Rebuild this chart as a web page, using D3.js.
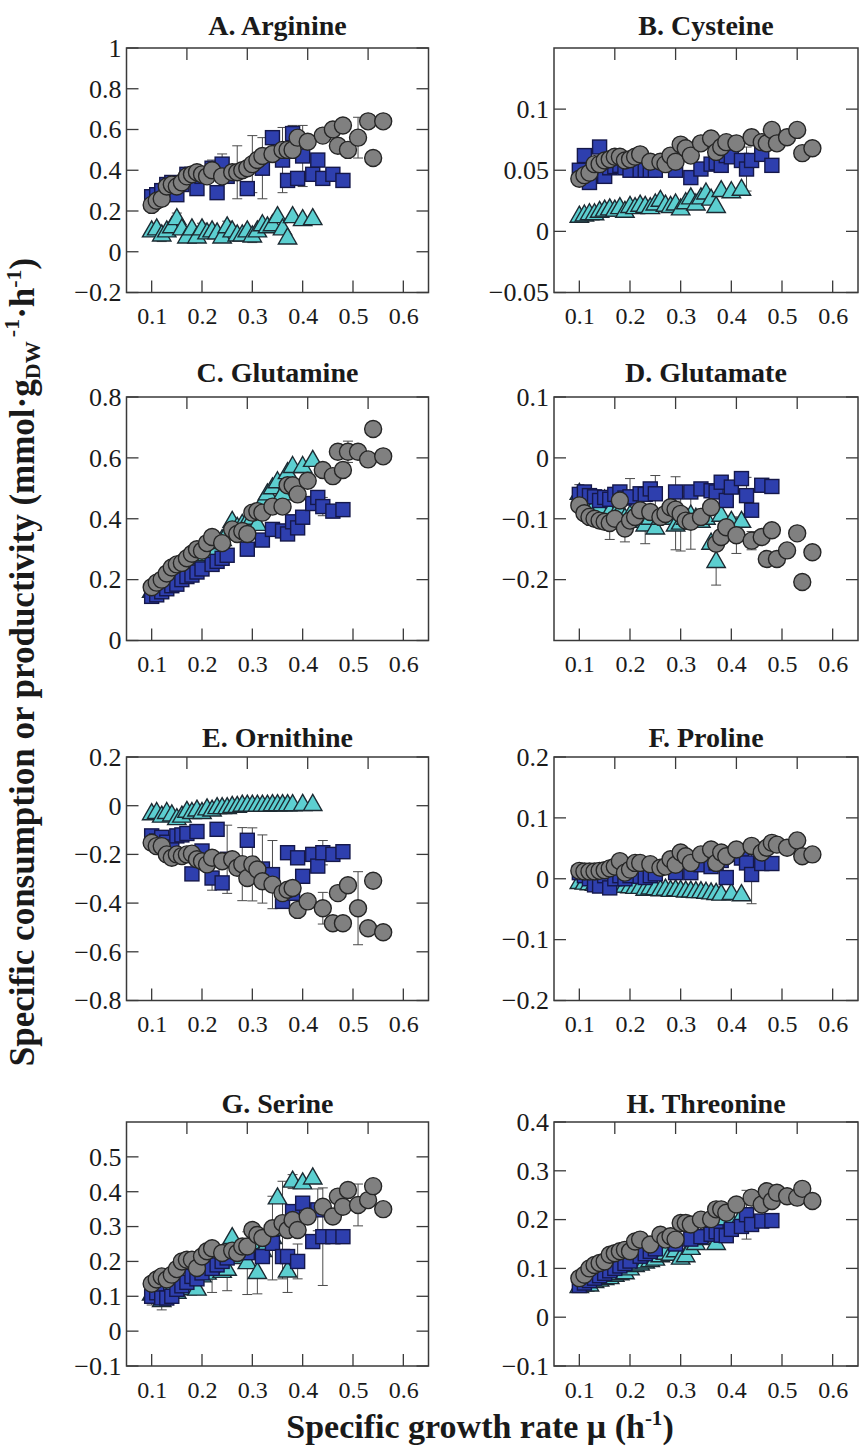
<!DOCTYPE html>
<html><head><meta charset="utf-8">
<script src="https://cdn.jsdelivr.net/npm/d3@7"></script>
<style>body{margin:0;background:#fff}svg{display:block}svg text{font-family:'Liberation Serif','Times New Roman',Times,serif}</style>
</head><body>
<script>
// ---------- DATA ----------
const circleX = [0.10,0.11,0.12,0.13,0.14,0.15,0.16,0.17,0.18,0.19,0.20,0.21,0.22,0.24,0.26,0.27,0.28,0.29,0.30,0.31,0.32,0.34,0.36,0.37,0.38,0.39,0.41,0.44,0.46,0.47,0.48,0.49,0.51,0.53,0.54,0.56];
const squareX = [0.10,0.11,0.12,0.13,0.14,0.15,0.16,0.17,0.18,0.19,0.20,0.22,0.23,0.24,0.25,0.29,0.32,0.34,0.36,0.37,0.38,0.39,0.40,0.42,0.43,0.44,0.46,0.48];
const triX = [0.10,0.11,0.12,0.13,0.14,0.15,0.16,0.17,0.18,0.19,0.20,0.21,0.22,0.23,0.24,0.25,0.26,0.27,0.28,0.29,0.30,0.31,0.32,0.33,0.34,0.35,0.36,0.37,0.38,0.40,0.42];

const titles = ["A. Arginine","B. Cysteine","C. Glutamine","D. Glutamate","E. Ornithine","F. Proline","G. Serine","H. Threonine"];
const yDomains = [[-0.2,1],[-0.05,0.15],[0,0.8],[-0.3,0.1],[-0.8,0.2],[-0.2,0.2],[-0.1,0.6],[-0.1,0.4]];
const yTicks = [[-0.2,0,0.2,0.4,0.6,0.8,1],[-0.05,0,0.05,0.1],[0,0.2,0.4,0.6,0.8],[-0.2,-0.1,0,0.1],[-0.8,-0.6,-0.4,-0.2,0,0.2],[-0.2,-0.1,0,0.1,0.2],[-0.1,0,0.1,0.2,0.3,0.4,0.5],[-0.1,0,0.1,0.2,0.3,0.4]];
const xDomain = [0.05,0.65];
const xTicks = [0.1,0.2,0.3,0.4,0.5,0.6];
const topTicks = [1,2,3,4];

const argCircle = [0.23,0.25,0.26,0.32,0.33,0.32,0.34,0.37,0.38,0.39,0.38,0.37,0.40,0.37,0.39,0.39,0.40,0.41,0.43,0.45,0.47,0.48,0.50,0.50,0.50,0.56,0.54,0.57,0.60,0.52,0.62,0.50,0.56,0.64,0.46,0.64];
const argSquare = [0.27,0.28,0.30,0.33,0.34,0.28,0.33,0.38,0.38,0.31,0.37,0.41,0.29,0.43,0.37,0.31,0.41,0.56,0.45,0.35,0.58,0.36,0.47,0.38,0.45,0.36,0.38,0.35];
const argTri = [0.10,0.11,0.08,0.10,0.12,0.16,0.11,0.07,0.11,0.07,0.11,0.09,0.10,0.09,0.07,0.12,0.10,0.08,0.08,0.10,0.075,0.10,0.13,0.12,0.13,0.17,0.11,0.065,0.17,0.155,0.16];

const cysCircle = [0.043,0.046,0.048,0.055,0.055,0.058,0.059,0.061,0.061,0.058,0.059,0.061,0.063,0.057,0.057,0.055,0.062,0.057,0.071,0.068,0.062,0.072,0.076,0.065,0.069,0.073,0.072,0.077,0.073,0.072,0.083,0.072,0.077,0.083,0.064,0.068];
const cysSquare = [0.05,0.062,0.04,0.052,0.069,0.045,0.052,0.053,0.054,0.052,0.05,0.05,0.05,0.05,0.05,0.05,0.044,0.051,0.055,0.056,0.054,0.062,0.061,0.058,0.051,0.058,0.063,0.054];
const cysTri = [0.012,0.013,0.014,0.014,0.016,0.017,0.018,0.017,0.019,0.016,0.02,0.019,0.021,0.02,0.019,0.022,0.025,0.021,0.02,0.022,0.018,0.023,0.027,0.022,0.027,0.031,0.026,0.02,0.033,0.032,0.034];

const glnCircle = [0.175,0.19,0.20,0.22,0.24,0.25,0.255,0.27,0.285,0.30,0.295,0.32,0.34,0.32,0.365,0.35,0.36,0.35,0.42,0.425,0.42,0.44,0.44,0.51,0.51,0.48,0.525,0.56,0.54,0.62,0.56,0.62,0.62,0.595,0.695,0.605];
const glnSquare = [0.145,0.15,0.16,0.17,0.18,0.185,0.20,0.21,0.215,0.225,0.235,0.25,0.26,0.27,0.28,0.30,0.33,0.365,0.36,0.35,0.39,0.37,0.405,0.45,0.47,0.44,0.425,0.43];
const glnTri = [0.16,0.17,0.19,0.20,0.21,0.22,0.23,0.25,0.26,0.27,0.28,0.29,0.30,0.32,0.33,0.35,0.39,0.37,0.38,0.39,0.40,0.38,0.45,0.48,0.50,0.52,0.48,0.55,0.57,0.57,0.59];

const gluCircle = [-0.078,-0.091,-0.097,-0.10,-0.103,-0.105,-0.107,-0.10,-0.07,-0.116,-0.103,-0.097,-0.086,-0.089,-0.097,-0.092,-0.081,-0.085,-0.092,-0.103,-0.105,-0.097,-0.081,-0.141,-0.13,-0.114,-0.127,-0.136,-0.13,-0.166,-0.119,-0.166,-0.152,-0.124,-0.204,-0.155];
const gluSquare = [-0.06,-0.056,-0.062,-0.064,-0.07,-0.065,-0.068,-0.06,-0.056,-0.066,-0.064,-0.059,-0.06,-0.051,-0.059,-0.056,-0.056,-0.051,-0.054,-0.056,-0.04,-0.07,-0.048,-0.034,-0.062,-0.086,-0.045,-0.047];
const gluTri = [-0.059,-0.067,-0.075,-0.08,-0.083,-0.07,-0.09,-0.095,-0.09,-0.1,-0.095,-0.1,-0.105,-0.111,-0.1,-0.116,-0.1,-0.095,-0.1,-0.111,-0.108,-0.1,-0.095,-0.1,-0.105,-0.1,-0.141,-0.171,-0.095,-0.105,-0.105];

const ornCircle = [-0.152,-0.166,-0.166,-0.20,-0.214,-0.20,-0.207,-0.20,-0.197,-0.22,-0.228,-0.241,-0.214,-0.228,-0.22,-0.255,-0.24,-0.297,-0.241,-0.262,-0.31,-0.324,-0.359,-0.345,-0.338,-0.428,-0.393,-0.421,-0.483,-0.359,-0.483,-0.327,-0.421,-0.503,-0.308,-0.52];
const ornSquare = [-0.124,-0.145,-0.13,-0.15,-0.17,-0.124,-0.12,-0.114,-0.28,-0.106,-0.186,-0.297,-0.097,-0.317,-0.22,-0.142,-0.26,-0.283,-0.393,-0.193,-0.36,-0.214,-0.29,-0.2,-0.248,-0.193,-0.2,-0.189];
const ornTri = [-0.035,-0.03,-0.045,-0.03,-0.04,-0.055,-0.045,-0.025,-0.03,-0.02,-0.03,-0.015,-0.02,-0.01,-0.01,-0.01,-0.005,-0.005,0,0,0,0,0,0,0.002,0.002,0.002,0.002,0.002,0.003,0.003];

const proCircle = [0.013,0.012,0.012,0.012,0.013,0.014,0.017,0.02,0.029,0.01,0.015,0.026,0.026,0.024,0.018,0.02,0.032,0.023,0.043,0.037,0.026,0.04,0.048,0.026,0.043,0.037,0.048,0.054,0.043,0.051,0.059,0.056,0.051,0.063,0.037,0.04];
const proSquare = [0.01,0.005,0.0,-0.01,-0.012,0.005,-0.015,0.0,0.005,0.0,0.005,0.004,0.002,0.005,0.008,0.01,0.01,0.023,0.02,0.026,0.03,0.002,0.04,0.034,0.026,0.007,0.025,0.025];
const proTri = [-0.007,-0.008,-0.009,-0.01,-0.011,-0.011,-0.012,-0.012,-0.013,-0.013,-0.014,-0.015,-0.015,-0.018,-0.016,-0.017,-0.019,-0.018,-0.02,-0.019,-0.02,-0.021,-0.021,-0.022,-0.022,-0.023,-0.024,-0.025,-0.026,-0.025,-0.027];

const serCircle = [0.136,0.148,0.157,0.148,0.162,0.178,0.20,0.205,0.205,0.181,0.214,0.229,0.238,0.224,0.231,0.224,0.243,0.243,0.29,0.276,0.267,0.295,0.31,0.29,0.319,0.29,0.329,0.357,0.329,0.386,0.357,0.405,0.362,0.376,0.416,0.35];
const serSquare = [0.10,0.11,0.095,0.095,0.10,0.12,0.13,0.14,0.157,0.15,0.167,0.18,0.19,0.20,0.21,0.225,0.214,0.252,0.214,0.214,0.343,0.20,0.367,0.257,0.348,0.271,0.271,0.271];
const serTri = [0.105,0.11,0.086,0.119,0.12,0.11,0.138,0.12,0.143,0.119,0.157,0.165,0.181,0.178,0.17,0.176,0.267,0.21,0.22,0.195,0.252,0.167,0.23,0.25,0.267,0.381,0.29,0.171,0.429,0.424,0.438];

const thrCircle = [0.08,0.087,0.10,0.107,0.111,0.114,0.128,0.131,0.135,0.138,0.135,0.155,0.159,0.149,0.169,0.159,0.166,0.159,0.193,0.193,0.19,0.20,0.201,0.221,0.221,0.214,0.231,0.245,0.231,0.258,0.238,0.255,0.248,0.245,0.263,0.238];
const thrSquare = [0.065,0.07,0.075,0.08,0.085,0.09,0.095,0.10,0.105,0.11,0.115,0.125,0.13,0.135,0.14,0.15,0.16,0.165,0.17,0.175,0.168,0.167,0.18,0.186,0.21,0.19,0.197,0.198];
const thrTri = [0.062,0.065,0.065,0.072,0.075,0.078,0.08,0.085,0.088,0.09,0.098,0.105,0.108,0.112,0.115,0.118,0.125,0.13,0.128,0.135,0.12,0.125,0.14,0.15,0.16,0.17,0.18,0.15,0.19,0.195,0.205];

// error bars: [series, x, half-width]
const argErr = [["c",0.27,0.13],["c",0.30,0.14],["s",0.32,0.15],["s",0.36,0.16],["s",0.40,0.15],["c",0.51,0.10],["s",0.38,0.04],["s",0.22,0.04],["s",0.24,0.05],["s",0.19,0.03],["t",0.12,0.03],["t",0.15,0.03],["t",0.20,0.03],["t",0.25,0.03],["t",0.30,0.03],["t",0.33,0.02]];
const cysErr = [["s",0.43,0.018],["c",0.29,0.008],["s",0.12,0.005],["c",0.44,0.006]];
const glnErr = [["c",0.49,0.035],["s",0.44,0.03],["c",0.24,0.02],["t",0.30,0.03]];
const gluErr = [["c",0.16,0.027],["c",0.19,0.022],["t",0.23,0.03],["t",0.29,0.04],["t",0.30,0.045],["c",0.32,0.045],["t",0.37,0.038],["s",0.20,0.03],["s",0.25,0.03],["s",0.29,0.025],["s",0.43,0.03],["c",0.41,0.03],["c",0.44,0.015],["t",0.10,0.015]];
const ornErr = [["s",0.25,0.14],["c",0.28,0.15],["c",0.30,0.15],["s",0.32,0.14],["s",0.34,0.14],["c",0.51,0.15],["c",0.44,0.065],["s",0.44,0.05],["s",0.22,0.05],["c",0.24,0.03]];
const proErr = [["s",0.44,0.048],["c",0.53,0.012],["c",0.29,0.008],["s",0.23,0.01]];
const serErr = [["s",0.44,0.14],["t",0.29,0.09],["t",0.34,0.12],["t",0.36,0.14],["t",0.38,0.02],["c",0.51,0.06],["t",0.37,0.06],["t",0.31,0.06],["t",0.25,0.06],["t",0.22,0.07],["t",0.12,0.025],["t",0.10,0.03],["s",0.39,0.05],["s",0.43,0.06]];
const thrErr = [["s",0.43,0.05],["c",0.29,0.01],["t",0.33,0.02]];

const circleSeries = [argCircle,cysCircle,glnCircle,gluCircle,ornCircle,proCircle,serCircle,thrCircle];
const squareSeries = [argSquare,cysSquare,glnSquare,gluSquare,ornSquare,proSquare,serSquare,thrSquare];
const triSeries = [argTri,cysTri,glnTri,gluTri,ornTri,proTri,serTri,thrTri];
const errSeries = [argErr,cysErr,glnErr,gluErr,ornErr,proErr,serErr,thrErr];

// ---------- LAYOUT ----------
const W = 860, H = 1446;
const colX = [[126.5,428.5],[554,858]];
const rowY = [[48,292.5],[397,640.5],[757,1000.5],[1122,1366]];
const titleBase = [35,382,747,1113];
const FONT = "'Liberation Serif','Times New Roman',Times,serif";
const COLORS = {c:"#808080", s:"#2e3fae", t:"#5ccfd0"};
const STROKES = {c:"#262626", s:"#15184a", t:"#1d2b33"};

const svg = d3.select("body").append("svg").attr("width",W).attr("height",H)
  .style("font-family",FONT);
svg.append("rect").attr("width",W).attr("height",H).attr("fill","#fff");

const fmt = d3.format("~g");
const triPath = "M0,-10.5L9.2,5.5L-9.2,5.5Z";

for (let i=0;i<8;i++){
  const col = i%2, row = Math.floor(i/2);
  const [x0,x1] = colX[col], [y0,y1] = rowY[row];
  const x = d3.scaleLinear().domain(xDomain).range([x0,x1]);
  const y = d3.scaleLinear().domain(yDomains[i]).range([y1,y0]);
  const xTop = d3.scaleLinear().domain([0,5]).range([x0,x1]);
  const g = svg.append("g");

  // title
  g.append("text").attr("x",(x0+x1)/2).attr("y",titleBase[row]).attr("text-anchor","middle")
    .attr("font-weight","bold").attr("font-size",28).attr("fill","#1a1a1a").text(titles[i]);

  // axes (labels)
  const ax = d3.axisBottom(x).tickValues(xTicks).tickSize(0).tickPadding(10).tickFormat(d3.format(".1f"));
  const axG = g.append("g").attr("transform",`translate(0,${y1})`).call(ax)
    .attr("font-family",null).style("font-family",FONT);
  axG.select(".domain").remove();
  axG.selectAll("text").attr("font-size",24).attr("fill","#1a1a1a").style("font-family",FONT).attr("dy","0.9em");

  const ay = d3.axisLeft(y).tickValues(yTicks[i]).tickSize(0).tickPadding(5).tickFormat(fmt);
  const ayG = g.append("g").attr("transform",`translate(${x0},0)`).call(ay)
    .attr("font-family",null).style("font-family",FONT);
  ayG.select(".domain").remove();
  ayG.selectAll("text").attr("font-size",26).attr("fill","#1a1a1a").style("font-family",FONT);

  // inward tick marks on all four sides
  const tk = g.append("g").attr("stroke","#3a3a3a").attr("stroke-width",1.3);
  const TL = 12;
  xTicks.forEach(v=>tk.append("line").attr("x1",x(v)).attr("x2",x(v)).attr("y1",y1).attr("y2",y1-TL));
  topTicks.forEach(v=>tk.append("line").attr("x1",xTop(v)).attr("x2",xTop(v)).attr("y1",y0).attr("y2",y0+TL));
  yTicks[i].forEach(v=>{
    tk.append("line").attr("x1",x0).attr("x2",x0+TL).attr("y1",y(v)).attr("y2",y(v));
    tk.append("line").attr("x1",x1).attr("x2",x1-TL).attr("y1",y(v)).attr("y2",y(v));
  });

  const seriesX = {c:circleX, s:squareX, t:triX};
  const seriesY = {c:circleSeries[i], s:squareSeries[i], t:triSeries[i]};

  // error bars
  const eg = g.append("g").attr("stroke","#4a4a4a").attr("stroke-width",1).attr("fill","none");
  errSeries[i].forEach(([k,xv,e])=>{
    const idx = seriesX[k].indexOf(xv);
    if (idx<0) return;
    const yv = seriesY[k][idx];
    const cx = x(xv), ya = y(yv+e), yb = y(yv-e);
    eg.append("line").attr("x1",cx).attr("x2",cx).attr("y1",ya).attr("y2",yb);
    eg.append("line").attr("x1",cx-5).attr("x2",cx+5).attr("y1",ya).attr("y2",ya);
    eg.append("line").attr("x1",cx-5).attr("x2",cx+5).attr("y1",yb).attr("y2",yb);
  });

  // markers: triangles, squares, circles (circles on top)
  const clipId = "clip"+i;
  svg.append("clipPath").attr("id",clipId).append("rect").attr("x",x0).attr("y",y0).attr("width",x1-x0).attr("height",y1-y0);
  const mg = g.append("g").attr("clip-path",`url(#${clipId})`);
  mg.selectAll("path.t").data(triX.map((v,j)=>[v,triSeries[i][j]])).join("path")
    .attr("class","t").attr("d",triPath)
    .attr("transform",d=>`translate(${x(d[0])},${y(d[1])})`)
    .attr("fill",COLORS.t).attr("stroke",STROKES.t).attr("stroke-width",1.4);
  mg.selectAll("rect.s").data(squareX.map((v,j)=>[v,squareSeries[i][j]])).join("rect")
    .attr("class","s").attr("x",d=>x(d[0])-7).attr("y",d=>y(d[1])-7).attr("width",14).attr("height",14)
    .attr("fill",COLORS.s).attr("stroke",STROKES.s).attr("stroke-width",1.4);
  mg.selectAll("circle.c").data(circleX.map((v,j)=>[v,circleSeries[i][j]])).join("circle")
    .attr("class","c").attr("cx",d=>x(d[0])).attr("cy",d=>y(d[1])).attr("r",8.5)
    .attr("fill",COLORS.c).attr("stroke",STROKES.c).attr("stroke-width",1.4);

  // frame
  g.append("rect").attr("x",x0).attr("y",y0).attr("width",x1-x0).attr("height",y1-y0)
    .attr("fill","none").attr("stroke","#3a3a3a").attr("stroke-width",1.5);
}

// axis titles
const yl = svg.append("text").attr("transform","translate(34,662) rotate(-90)")
  .attr("text-anchor","middle").attr("font-weight","bold").attr("font-size",35).attr("fill","#1a1a1a");
yl.append("tspan").text("Specific consumption or productivity (mmol·g");
yl.append("tspan").attr("font-size",22).attr("dy",6).text("DW");
yl.append("tspan").attr("font-size",22).attr("dy",-21).attr("dx",5).text("-1");
yl.append("tspan").attr("dy",15).text("·h");
yl.append("tspan").attr("font-size",22).attr("dy",-13).text("-1");
yl.append("tspan").attr("dy",13).text(")");

const xl = svg.append("text").attr("x",480).attr("y",1438).attr("text-anchor","middle")
  .attr("font-weight","bold").attr("font-size",34).attr("fill","#1a1a1a");
xl.append("tspan").text("Specific growth rate μ (h");
xl.append("tspan").attr("font-size",21).attr("dy",-13).text("-1");
xl.append("tspan").attr("dy",13).text(")");
</script>
</body></html>
